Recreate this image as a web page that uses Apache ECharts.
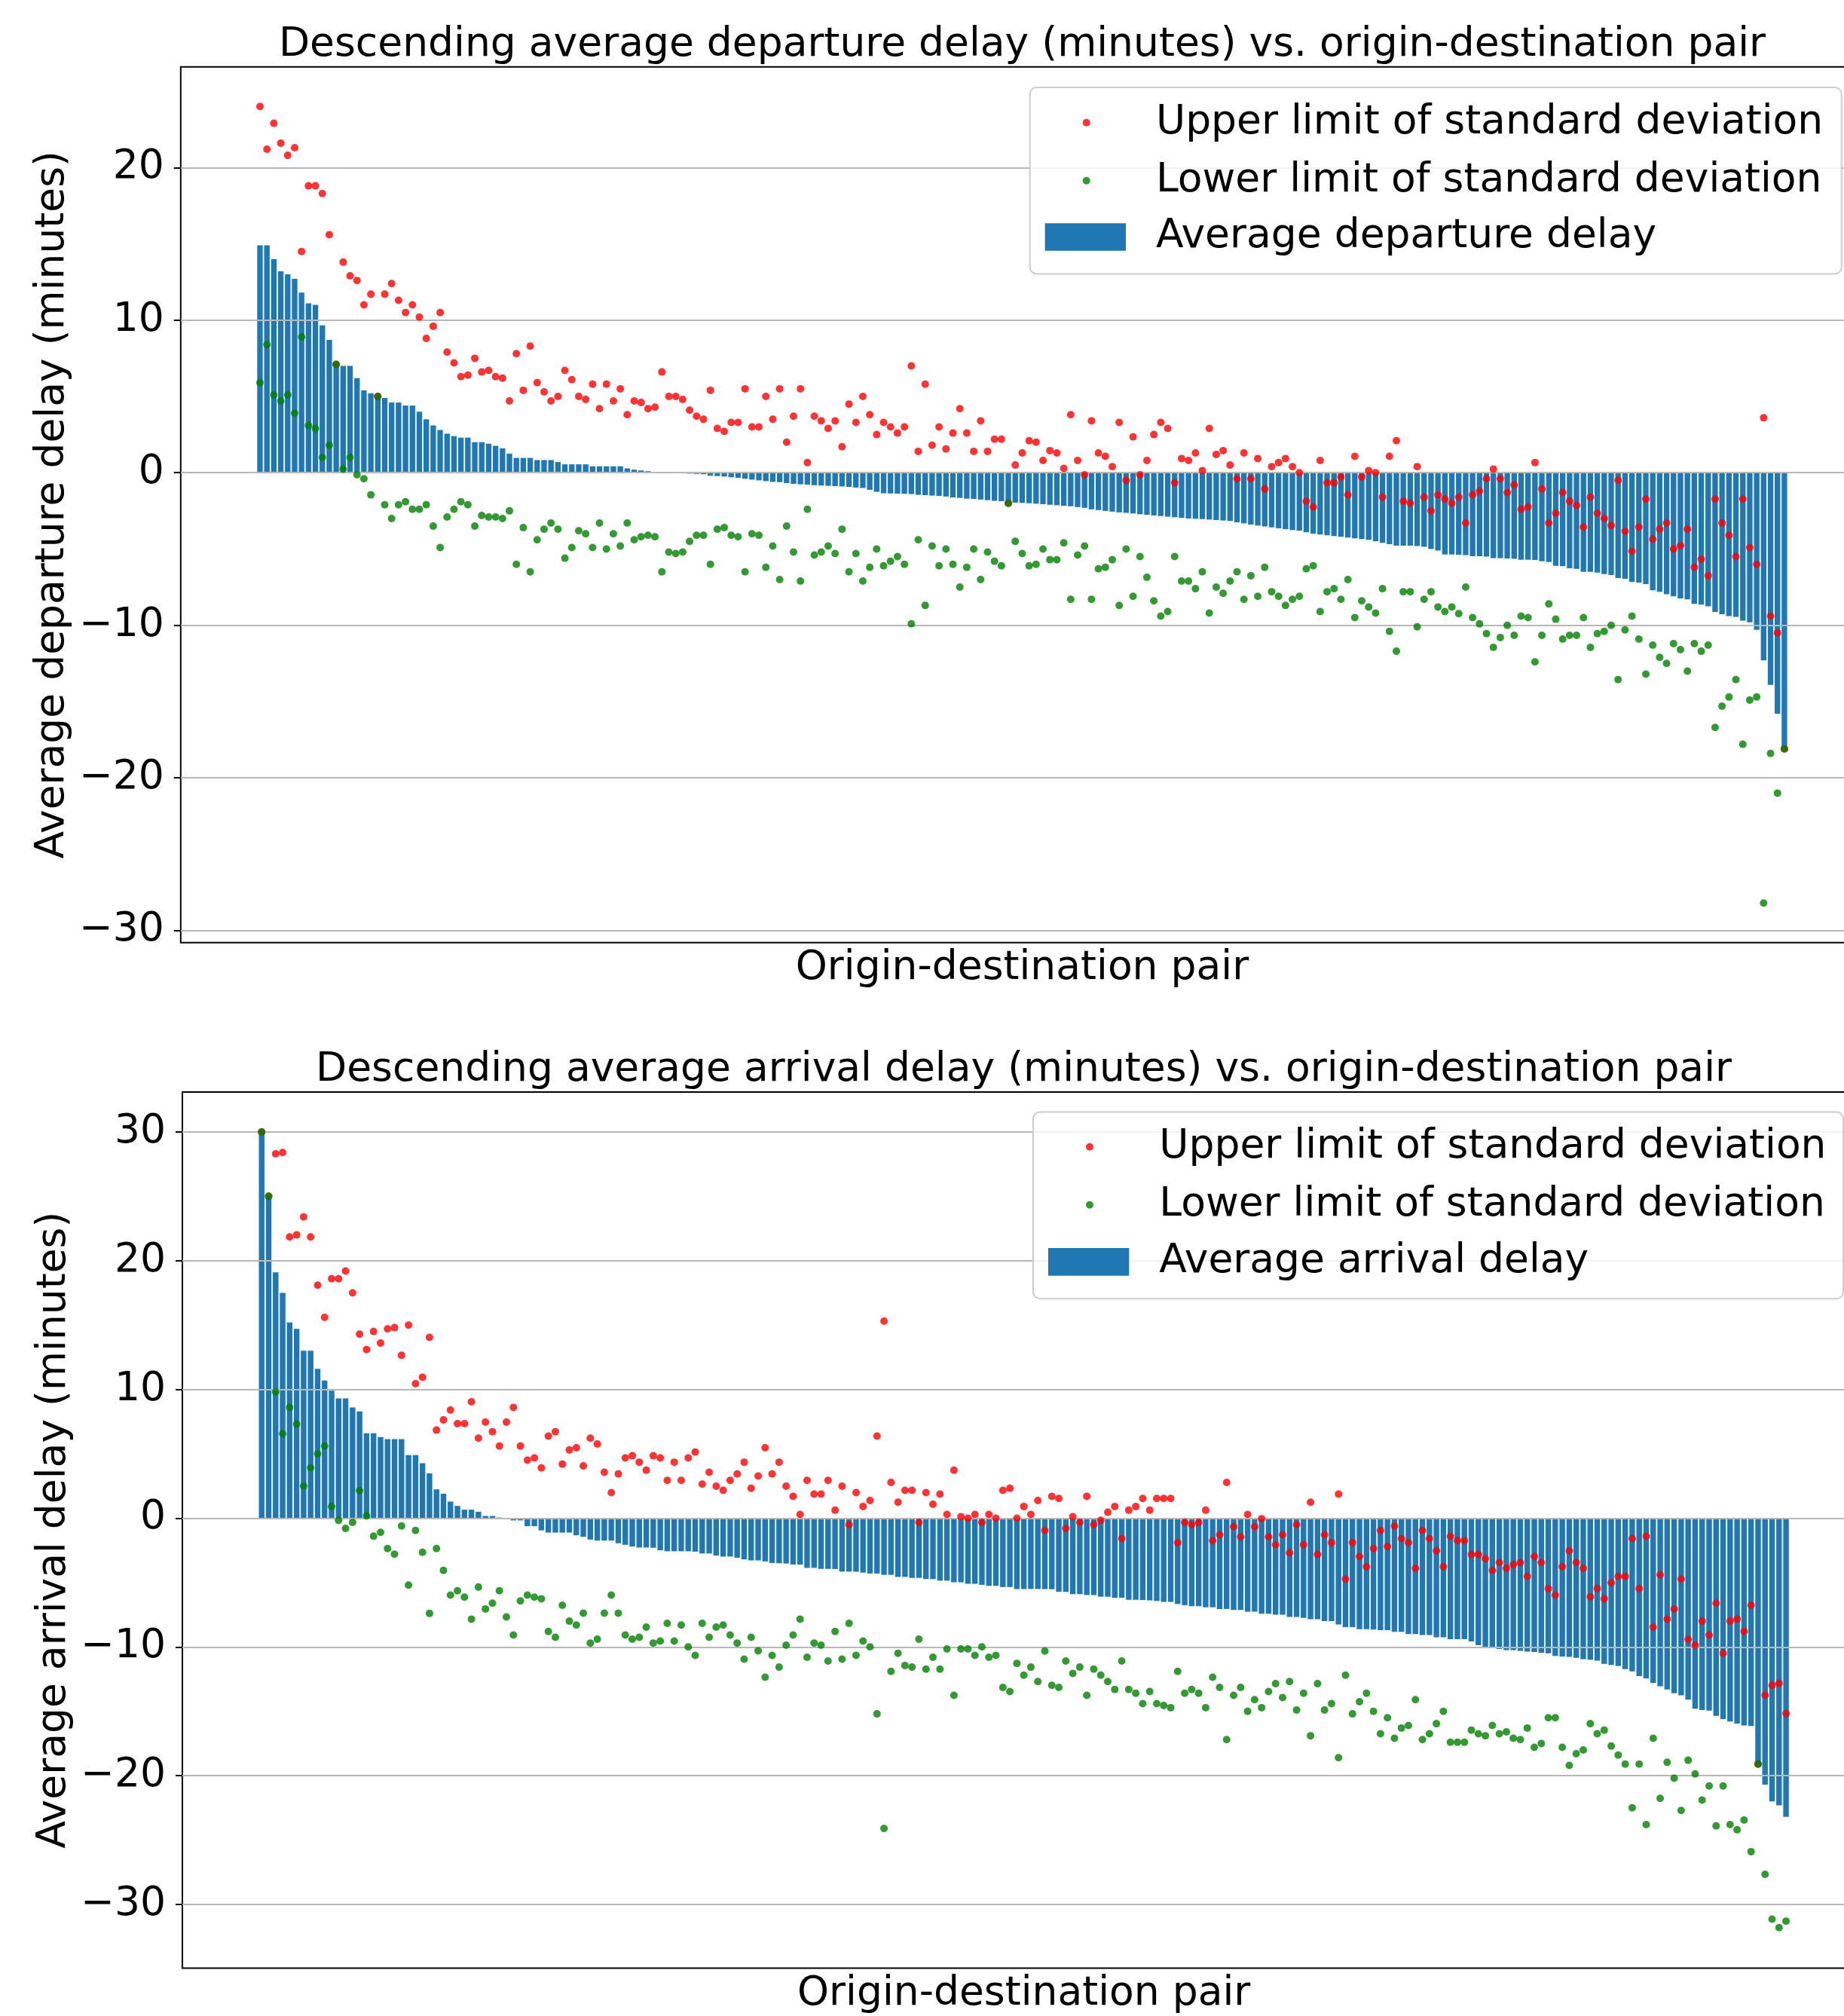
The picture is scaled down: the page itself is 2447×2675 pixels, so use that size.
<!DOCTYPE html>
<html>
<head>
<meta charset="utf-8">
<script src="https://cdn.jsdelivr.net/npm/echarts@6/dist/echarts.min.js"></script>
<style>
html,body{margin:0;padding:0;background:#ffffff;}
#chart{width:2447px;height:2675px;}
</style>
</head>
<body>
<div id="chart"></div>
<script>
// ---------------- data: departure delay (221 origin-destination pairs) ----------------
const depMean = [
14.9,14.9,14.0,13.2,13.0,12.7,11.8,11.1,11.0,9.65,
8.7,7.1,7.0,7.0,6.2,5.4,5.2,5.0,4.9,4.6,
4.6,4.4,4.4,4.0,3.5,3.1,2.8,2.56,2.4,2.3,
2.3,2.0,2.0,1.9,1.76,1.6,1.25,0.97,0.97,0.97,
0.83,0.83,0.83,0.7,0.55,0.55,0.55,0.55,0.42,0.42,
0.42,0.42,0.42,0.28,0.2,0.15,0.1,0.05,0.03,0.0,
-0.02,-0.04,-0.06,-0.08,-0.1,-0.2,-0.22,-0.25,-0.3,-0.33,
-0.4,-0.45,-0.5,-0.55,-0.6,-0.62,-0.68,-0.73,-0.76,-0.78,
-0.82,-0.84,-0.86,-0.88,-0.9,-0.93,-0.97,-1.0,-1.12,-1.25,
-1.35,-1.36,-1.37,-1.38,-1.4,-1.45,-1.47,-1.5,-1.52,-1.56,
-1.62,-1.65,-1.7,-1.72,-1.76,-1.8,-1.84,-1.87,-1.92,-1.96,
-1.98,-2.0,-2.03,-2.06,-2.1,-2.13,-2.17,-2.2,-2.25,-2.3,
-2.4,-2.45,-2.5,-2.55,-2.6,-2.63,-2.67,-2.72,-2.76,-2.8,
-2.84,-2.88,-2.92,-2.96,-3.0,-3.02,-3.04,-3.07,-3.1,-3.13,
-3.16,-3.25,-3.32,-3.4,-3.46,-3.52,-3.58,-3.64,-3.7,-3.76,
-3.8,-3.9,-4.0,-4.05,-4.1,-4.15,-4.2,-4.25,-4.3,-4.35,
-4.4,-4.5,-4.6,-4.68,-4.78,-4.78,-4.78,-4.8,-4.85,-5.0,
-5.1,-5.36,-5.36,-5.38,-5.4,-5.47,-5.47,-5.5,-5.6,-5.6,
-5.62,-5.64,-5.7,-5.7,-5.72,-5.8,-5.85,-6.1,-6.12,-6.26,
-6.3,-6.5,-6.5,-6.55,-6.64,-6.7,-6.9,-6.95,-7.16,-7.2,
-7.3,-7.7,-7.8,-7.96,-8.1,-8.24,-8.3,-8.6,-8.65,-8.75,
-9.13,-9.27,-9.4,-9.45,-9.7,-9.8,-10.3,-12.3,-13.9,-15.8,
-18.1
];
const depUpper = [
24.0,21.2,22.9,21.6,20.8,21.3,14.5,18.8,18.8,18.3,
15.6,7.1,13.8,12.9,12.6,11.0,11.7,5.0,11.7,12.4,
11.3,10.5,11.0,10.2,8.8,9.6,10.5,7.9,7.2,6.3,
6.4,7.5,6.6,6.7,6.3,6.2,4.7,7.8,5.4,8.3,
5.9,5.3,4.7,5.0,6.7,6.1,5.0,4.8,5.8,4.2,
5.8,4.7,5.5,3.8,4.7,4.6,4.2,4.3,6.6,5.0,
5.0,4.8,4.1,3.7,3.5,5.4,2.9,2.7,3.3,3.3,
5.5,3.0,3.0,5.0,3.5,5.5,2.0,3.7,5.5,0.66,
3.7,3.4,2.9,3.4,1.7,4.5,3.3,5.0,3.8,2.5,
3.3,3.0,2.6,3.0,7.0,1.4,5.8,1.8,3.0,1.56,
2.6,4.2,2.6,1.4,3.4,1.4,2.2,2.2,-2.0,0.5,
1.3,2.1,2.0,0.8,1.45,1.3,0.28,3.8,0.8,-0.14,
3.4,1.3,1.07,0.4,3.3,-0.5,2.35,-0.14,0.8,2.5,
3.3,2.9,-0.66,0.93,0.8,1.3,0.14,2.9,1.2,1.45,
0.5,-0.4,1.3,-0.4,0.93,-1.07,0.4,0.66,0.93,0.4,
0.0,-1.87,-2.25,0.8,-0.66,-0.66,-0.28,-1.45,1.07,-0.28,
0.14,0.0,-1.6,1.07,2.1,-1.87,-2.0,0.4,-1.6,-2.5,
-1.45,-1.73,-2.0,-1.6,-3.3,-1.45,-1.2,-0.4,0.24,-0.4,
-1.3,-0.8,-2.4,-2.25,0.66,-1.07,-3.3,-2.66,-1.3,-1.87,
-2.15,-3.56,-1.6,-2.66,-3.0,-3.46,-0.5,-3.84,-5.15,-3.56,
-1.73,-4.36,-3.7,-3.3,-5.0,-4.78,-3.7,-6.2,-5.67,-6.75,
-1.73,-3.3,-4.1,-5.5,-1.73,-4.9,-6.0,3.6,-9.4,-10.5,
-18.1
];
const depLower = [
5.9,8.4,5.1,4.7,5.1,3.9,8.9,3.1,2.9,1.0,
1.8,7.1,0.24,1.0,-0.14,-0.4,-1.45,5.0,-2.1,-3.0,
-2.1,-1.9,-2.4,-2.4,-2.1,-3.5,-4.9,-2.9,-2.4,-1.9,
-2.1,-3.5,-2.8,-2.9,-2.9,-3.0,-2.5,-6.0,-3.6,-6.5,
-4.4,-3.7,-3.3,-3.7,-5.6,-4.9,-3.8,-4.0,-4.9,-3.3,
-5.0,-4.0,-4.8,-3.3,-4.4,-4.2,-4.1,-4.2,-6.5,-5.2,
-5.3,-5.2,-4.5,-4.1,-4.1,-6.0,-3.7,-3.6,-4.1,-4.2,
-6.5,-4.0,-4.1,-6.2,-4.8,-7.0,-3.5,-5.2,-7.1,-2.4,
-5.4,-5.2,-4.8,-5.3,-3.7,-6.5,-5.3,-7.1,-6.2,-5.0,
-6.1,-5.8,-5.5,-6.0,-9.9,-4.4,-8.7,-4.8,-6.1,-5.0,
-6.0,-7.5,-6.2,-5.0,-7.0,-5.2,-5.8,-6.1,-2.0,-4.5,
-5.3,-6.1,-6.0,-5.0,-5.7,-5.7,-4.6,-8.3,-5.4,-4.8,
-8.3,-6.3,-6.2,-5.7,-8.7,-5.0,-8.1,-5.5,-6.85,-8.4,
-9.4,-9.1,-5.5,-7.1,-7.1,-7.6,-6.5,-9.2,-7.5,-7.9,
-7.1,-6.5,-8.3,-6.75,-8.1,-6.2,-7.8,-8.1,-8.7,-8.3,
-8.1,-6.3,-6.1,-9.1,-7.8,-7.6,-8.3,-7.0,-9.5,-8.4,
-8.8,-9.2,-7.6,-10.4,-11.7,-7.8,-7.8,-10.1,-8.3,-7.8,
-8.8,-9.1,-8.8,-9.24,-7.5,-9.5,-9.9,-10.55,-11.45,-10.8,
-10.0,-10.66,-9.4,-9.5,-12.4,-10.66,-8.6,-9.6,-10.9,-10.66,
-10.66,-9.5,-11.45,-10.55,-10.4,-10.0,-13.56,-10.3,-9.4,-10.9,
-13.2,-11.3,-12.1,-12.5,-11.2,-11.6,-13.0,-11.2,-11.7,-11.3,
-16.7,-15.3,-14.7,-13.56,-17.8,-14.9,-14.7,-28.2,-18.4,-21.0,
-18.1
];

// ---------------- data: arrival delay (219 origin-destination pairs) ----------------
const arrMean = [
30.0,25.0,19.1,17.5,15.2,14.7,13.0,13.0,11.6,10.7,
9.9,9.3,9.3,8.6,8.3,6.6,6.6,6.3,6.14,6.14,
6.14,4.9,4.9,4.27,3.48,2.24,1.9,1.29,0.95,0.66,
0.66,0.5,0.17,0.17,0.05,0.0,-0.17,-0.17,-0.62,-0.62,
-0.95,-1.12,-1.12,-1.12,-1.12,-1.33,-1.45,-1.66,-1.74,-1.74,
-1.74,-1.95,-2.07,-2.2,-2.28,-2.28,-2.3,-2.49,-2.57,-2.57,
-2.57,-2.57,-2.6,-2.74,-2.74,-2.9,-2.98,-2.98,-3.07,-3.2,
-3.28,-3.28,-3.36,-3.48,-3.5,-3.52,-3.6,-3.6,-3.86,-3.86,
-3.94,-3.94,-3.95,-4.15,-4.15,-4.16,-4.23,-4.3,-4.3,-4.4,
-4.4,-4.56,-4.56,-4.64,-4.64,-4.73,-4.73,-4.85,-4.85,-4.98,
-4.98,-5.1,-5.1,-5.18,-5.26,-5.26,-5.35,-5.35,-5.5,-5.5,
-5.5,-5.5,-5.5,-5.52,-5.72,-5.72,-5.9,-5.9,-5.97,-5.97,
-6.1,-6.1,-6.18,-6.18,-6.34,-6.34,-6.36,-6.38,-6.43,-6.5,
-6.5,-6.67,-6.76,-6.84,-6.84,-6.92,-6.92,-7.05,-7.05,-7.13,
-7.13,-7.26,-7.26,-7.42,-7.42,-7.5,-7.5,-7.67,-7.67,-7.75,
-7.84,-7.84,-8.0,-8.0,-8.25,-8.46,-8.46,-8.62,-8.62,-8.65,
-8.7,-8.7,-8.83,-8.83,-9.0,-9.0,-9.08,-9.08,-9.25,-9.25,
-9.4,-9.4,-9.4,-9.58,-9.87,-10.0,-10.0,-10.16,-10.24,-10.24,
-10.3,-10.36,-10.4,-10.45,-10.5,-10.7,-10.75,-10.78,-10.85,-10.95,
-11.0,-11.07,-11.32,-11.4,-11.48,-11.73,-11.9,-12.27,-12.44,-12.8,
-13.06,-13.3,-13.6,-13.76,-14.1,-14.8,-14.9,-14.95,-15.35,-15.6,
-15.8,-15.96,-16.1,-16.15,-19.1,-20.7,-22.0,-22.3,-23.2
];
const arrUpper = [
30.0,25.0,28.3,28.4,21.85,22.0,23.4,21.85,18.1,15.6,
18.6,18.6,19.2,17.5,14.3,13.1,14.5,13.6,14.7,14.8,
12.65,15.0,10.45,10.95,14.05,6.84,7.63,8.4,7.34,7.34,
9.04,6.22,7.46,6.72,5.6,7.46,8.6,5.6,4.5,4.68,
3.9,6.38,6.72,4.19,5.3,5.47,4.06,6.22,5.76,3.57,
1.99,3.44,4.68,4.85,4.35,3.73,4.85,4.68,2.94,4.35,
2.94,4.68,5.14,2.65,3.57,2.49,2.16,2.94,3.44,4.35,
2.32,3.28,5.47,3.44,4.35,2.49,1.7,0.29,2.94,1.87,
1.87,2.94,0.62,2.49,-0.5,1.99,0.91,1.37,6.38,15.3,
2.78,1.24,2.16,2.16,-0.33,1.99,1.08,1.87,0.29,3.73,
0.12,0.0,0.29,-0.33,0.29,0.0,2.16,2.32,0.0,0.91,
0.29,1.37,-0.95,1.7,1.53,-0.79,0.12,-0.33,1.7,-0.5,
-0.17,0.46,0.91,-1.58,0.62,0.91,1.53,0.62,1.53,1.53,
1.53,-1.9,-0.33,-0.5,-0.33,0.62,-1.74,-1.29,2.78,-0.66,
-1.45,0.29,-0.66,-0.04,-1.45,-2.07,-1.29,-2.7,-0.5,-2.07,
1.24,-2.82,-1.29,-1.9,1.87,-4.73,-1.9,-2.98,-3.77,-2.36,
-0.95,-2.2,-0.62,-1.58,-1.9,-3.9,-0.95,-1.58,-2.53,-3.77,
-1.41,-1.74,-1.74,-2.82,-2.82,-3.15,-4.06,-3.44,-3.9,-3.6,
-3.44,-4.52,-2.98,-3.44,-5.47,-5.97,-3.77,-2.53,-3.44,-3.9,
-6.1,-5.47,-6.26,-5.02,-4.52,-4.52,-1.58,-5.47,-1.41,-8.46,
-4.4,-7.84,-7.05,-4.73,-9.41,-9.87,-8.0,-9.08,-6.6,-10.5,
-8.0,-7.84,-8.8,-6.76,-19.1,-13.74,-12.99,-12.83,-15.17
];
const arrLower = [
30.0,25.0,9.8,6.55,8.6,7.3,2.5,3.9,5.0,5.6,
0.9,-0.17,-0.8,-0.33,2.15,0.17,-1.4,-1.1,-2.36,-2.8,
-0.6,-5.2,-0.95,-2.65,-7.4,-2.36,-4.06,-5.97,-5.64,-6.14,
-7.84,-5.35,-7.05,-6.6,-5.64,-7.67,-9.08,-6.43,-5.97,-6.14,
-6.26,-8.8,-9.25,-6.76,-8.0,-8.3,-7.38,-9.7,-9.4,-7.38,
-5.97,-7.38,-9.08,-9.4,-9.25,-8.46,-9.7,-9.54,-8.17,-9.54,
-8.3,-10.0,-10.66,-8.17,-9.25,-8.46,-8.3,-9.08,-9.7,-10.95,
-9.25,-10.3,-12.35,-10.66,-11.57,-9.87,-9.08,-7.84,-10.8,-9.7,
-9.87,-11.1,-8.8,-10.95,-8.17,-10.66,-9.54,-10.0,-15.2,-24.1,
-11.9,-10.5,-11.44,-11.57,-9.4,-11.73,-10.8,-11.73,-10.16,-13.76,
-10.16,-10.16,-10.66,-10.0,-10.8,-10.66,-13.14,-13.47,-11.28,-12.19,
-11.57,-12.69,-10.32,-12.98,-13.14,-11.1,-12.06,-11.57,-13.76,-11.73,
-12.19,-12.69,-13.3,-11.1,-13.3,-13.6,-14.4,-13.47,-14.4,-14.55,
-14.72,-11.9,-13.6,-13.3,-13.6,-14.72,-12.35,-13.14,-17.2,-13.76,
-13.14,-15.0,-14.1,-14.72,-13.47,-12.85,-13.93,-12.69,-14.9,-13.6,
-16.9,-12.85,-14.9,-14.4,-18.6,-12.19,-15.2,-14.26,-13.6,-15.0,
-16.75,-15.5,-17.1,-16.3,-16.1,-14.1,-17.2,-16.75,-15.96,-15.0,
-17.4,-17.4,-17.4,-16.46,-16.75,-16.9,-16.1,-16.75,-16.6,-17.1,
-17.2,-16.3,-17.8,-17.5,-15.5,-15.5,-17.8,-19.2,-18.3,-18.0,
-15.96,-16.75,-16.46,-17.7,-18.4,-19.1,-22.5,-19.1,-23.8,-17.1,
-21.76,-18.96,-20.2,-22.7,-18.8,-19.86,-21.9,-20.8,-23.9,-20.8,
-23.8,-24.2,-23.45,-25.9,-19.1,-27.66,-31.14,-31.8,-31.3
];

// ---------------- tick labels & texts ----------------
const depTicks = [-30, -20, -10, 0, 10, 20];
const arrTicks = [-30, -20, -10, 0, 10, 20, 30];
const titleTexts = [
  'Descending average departure delay (minutes) vs. origin-destination pair',
  'Descending average arrival delay (minutes) vs. origin-destination pair'
];
const yNames = ['Average departure delay (minutes)', 'Average arrival delay (minutes)'];
const xName = 'Origin-destination pair';
const upperName = 'Upper limit of standard deviation';
const lowerName = 'Lower limit of standard deviation';
const meanNames = ['Average departure delay', 'Average arrival delay'];

// ---------------- build option ----------------
const FONT = 'DejaVu Sans';
const FS = 53.5;
const pairs = arr => arr.map((v, i) => [i, v]);
const fmt = v => (v < 0 ? '\u2212' + Math.abs(v) : String(v));

const panels = [
  { left: 239.8, top: 88.7, height: 1162.1, n: depMean.length, ymin: -30.8, ymax: 26.6,
    ticks: depTicks, mean: depMean, up: depUpper, lo: depLower,
    titleX: 1356.5, titleTop: 33,
    leg: { dotX: 1437.7, row1: 167, row2: 244, barX: 1386.7, barY: 300.4, textX: 1534 },
    frame: { x: 1366.7, y: 116, w: 1077, h: 247.4 } },
  { left: 242.0, top: 1449.0, height: 1162.5, n: arrMean.length, ymin: -34.95, ymax: 33.1,
    ticks: arrTicks, mean: arrMean, up: arrUpper, lo: arrLower,
    titleX: 1358.5, titleTop: 1393,
    leg: { dotX: 1442, row1: 1526, row2: 1603, barX: 1391, barY: 1660.3, textX: 1538.3 },
    frame: { x: 1371, y: 1475.6, w: 1075, h: 247.7 } }
];
const PLOT_W = 2233.3;
const PAD_T = 9;   // shifts legend text down relative to its icon

const option = {
  animation: false,
  backgroundColor: '#ffffff',
  title: [], grid: [], xAxis: [], yAxis: [], series: [], legend: [], graphic: []
};

const textBase = { fontFamily: FONT, fontSize: FS, color: '#000000', fontWeight: 'normal' };

panels.forEach((p, k) => {
  const span = (p.n - 1) + 0.8;               // bar extent in data units
  const xmin = -0.4 - 0.05 * span;
  const xmax = p.n - 1 + 0.4 + 0.05 * span;
  const pitch = PLOT_W / (xmax - xmin);

  option.title.push({
    text: titleTexts[k], left: p.titleX, top: p.titleTop, textAlign: 'center', padding: 0,
    textStyle: Object.assign({}, textBase)
  });
  option.grid.push({
    left: p.left, top: p.top, width: PLOT_W, height: p.height,
    show: true, borderColor: '#000000', borderWidth: 2, backgroundColor: 'transparent',
    containLabel: false, outerBoundsMode: 'none'
  });
  option.xAxis.push({
    type: 'value', gridIndex: k, min: xmin, max: xmax,
    axisLine: { show: false, onZero: false }, axisTick: { show: false }, axisLabel: { show: false },
    splitLine: { show: false },
    name: xName, nameLocation: 'middle', nameGap: 7.5, nameMoveOverlap: false,
    nameTextStyle: Object.assign({}, textBase)
  });
  option.yAxis.push({
    type: 'value', gridIndex: k, min: p.ymin, max: p.ymax, z: 3,
    axisLine: { show: false, onZero: false },
    axisTick: { show: true, length: 9, inside: false, customValues: p.ticks,
      lineStyle: { color: '#000000', width: 2 } },
    axisLabel: { show: true, customValues: p.ticks, formatter: fmt, margin: 22,
      fontFamily: FONT, fontSize: FS, color: '#000000' },
    splitLine: { show: true, showMinLine: true, showMaxLine: true,
      lineStyle: { color: '#b8b8b8', width: 2 } },
    name: yNames[k], nameLocation: 'middle', nameRotate: 90, nameGap: 143, nameMoveOverlap: false,
    nameTextStyle: Object.assign({}, textBase)
  });
  option.series.push({
    type: 'bar', name: meanNames[k], xAxisIndex: k, yAxisIndex: k,
    data: pairs(p.mean), barWidth: 0.8 * pitch,
    itemStyle: { color: '#1f77b4' }, z: 2
  });
  option.series.push({
    type: 'scatter', name: upperName, xAxisIndex: k, yAxisIndex: k,
    data: pairs(p.up), symbol: 'circle', symbolSize: 10,
    itemStyle: { color: '#ff0000' }, z: 4
  });
  option.series.push({
    type: 'scatter', name: lowerName, xAxisIndex: k, yAxisIndex: k,
    data: pairs(p.lo), symbol: 'circle', symbolSize: 10,
    itemStyle: { color: '#008000' }, z: 5
  });

  // legend frame
  option.graphic.push({
    type: 'rect', z: 20,
    shape: { x: p.frame.x, y: p.frame.y, width: p.frame.w, height: p.frame.h, r: 9 },
    style: { fill: 'rgba(255,255,255,0.8)', stroke: '#cccccc', lineWidth: 2 }
  });
  const half = (FS + PAD_T) / 2;
  const lg = p.leg;
  const dotPad = [PAD_T, 0, 0, lg.textX - (lg.dotX - 1) - 15];
  option.legend.push({
    data: [{ name: upperName, icon: 'circle' }], orient: 'vertical',
    left: lg.dotX - 1, top: lg.row1 - half, itemWidth: 10, itemHeight: 10, padding: 0,
    selectedMode: false, z: 21,
    textStyle: Object.assign({}, textBase, { padding: dotPad })
  });
  option.legend.push({
    data: [{ name: lowerName, icon: 'circle' }], orient: 'vertical',
    left: lg.dotX - 1, top: lg.row2 - half, itemWidth: 10, itemHeight: 10, padding: 0,
    selectedMode: false, z: 21,
    textStyle: Object.assign({}, textBase, { padding: dotPad })
  });
  option.legend.push({
    data: [{ name: meanNames[k], icon: 'rect' }], orient: 'vertical',
    left: lg.barX, top: lg.barY + 18.3 - half, itemWidth: 107.3, itemHeight: 36.6, padding: 0,
    selectedMode: false, z: 21,
    textStyle: Object.assign({}, textBase, { padding: [PAD_T, 0, 0, lg.textX - lg.barX - 112.3] })
  });
});

const chart = echarts.init(document.getElementById('chart'), null, { renderer: 'canvas' });
chart.setOption(option);
</script>
</body>
</html>
